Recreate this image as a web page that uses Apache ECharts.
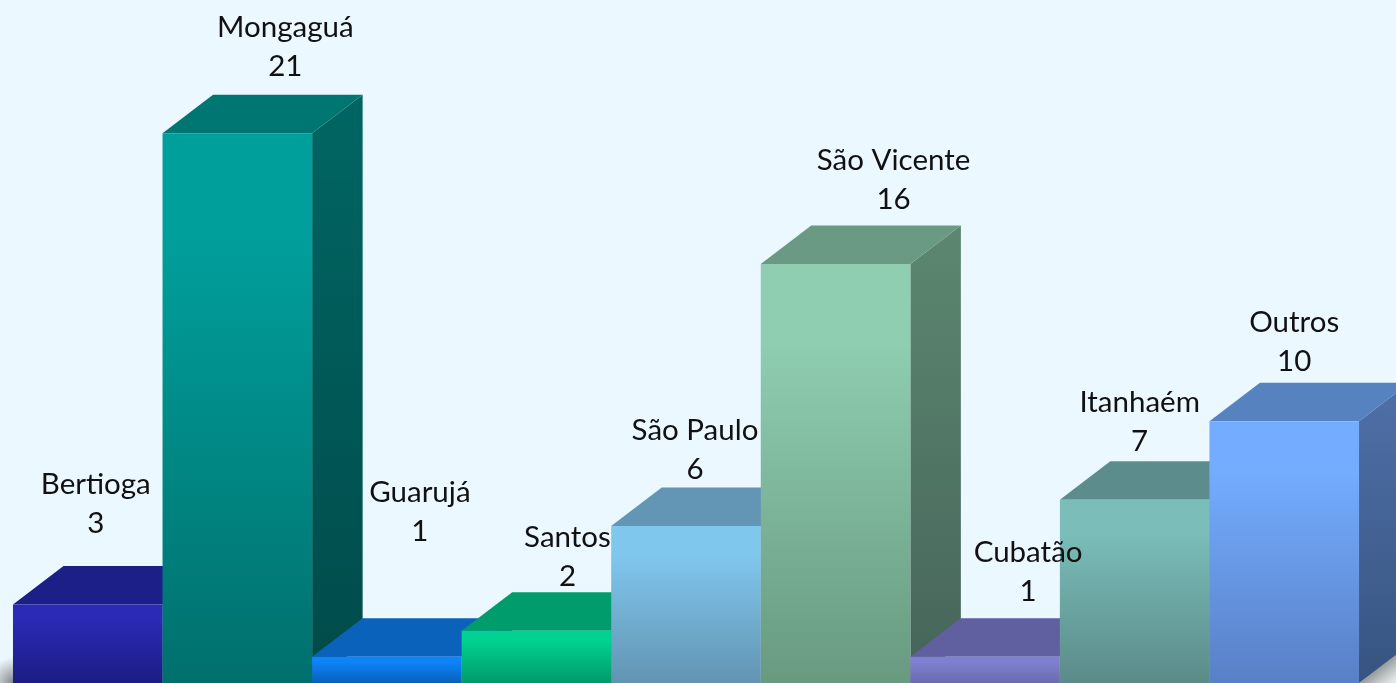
<!DOCTYPE html>
<html><head><meta charset="utf-8">
<style>html,body{margin:0;padding:0;background:#ecf8ff;overflow:hidden}#c{width:1396px;height:683px}</style>
<script src="https://cdn.jsdelivr.net/npm/echarts@6/dist/echarts.min.js"></script>
</head><body><div id="c"></div>
<script>
const categories = ['Bertioga','Mongaguá','Guarujá','Santos','São Paulo','São Vicente','Cubatão','Itanhaém','Outros'];
const values = [3,21,1,2,6,16,1,7,10];
// [front top, front bottom, top face, side top, side bottom]
const palette = [
 ['#2a2ab6','#1c1c84','#1c1f88','#1c1c70','#141460'],
 ['#009f9c','#00706d','#007673','#006663','#004b4a'],
 ['#0d84fb','#0a60b8','#0a62ba','#084c90','#063c74'],
 ['#00d291','#009a68','#009c6b','#008050','#006848'],
 ['#80c7ee','#6294b2','#6296b4','#507c96','#3e6278'],
 ['#8fceb1','#689a80','#6a9a84','#5c8770','#46645a'],
 ['#8080d2','#6a6aae','#6060a0','#505088','#404070'],
 ['#7abdb9','#5b8b89','#5c8c8c','#4c7474','#3c5c5c'],
 ['#74adff','#5880c6','#5682c0','#4f70a8','#375480']
];
const labelShiftX = [8,48,33,31,9,58,43,5,10];
const labelShiftY = [80,66,125,54,56,64,65,58,59];
const depthX = 50.5, depthY = 38.5, barW = 149.6;

const chart = echarts.init(document.getElementById('c'), null, {renderer:'canvas'});
function poly(points, fill, z2){
  return {type:'polygon', shape:{points}, style:{fill}, z2};
}
chart.setOption({
  animation:false,
  backgroundColor:'#ecf8ff',
  grid:{left:13, right:37, top:2.25, height:682.5},
  xAxis:{type:'category', data:categories, show:false},
  yAxis:{type:'value', min:0, max:26, show:false},
  graphic:[
    {type:'rect', z:0, shape:{x:0,y:650,width:14,height:33},
     style:{fill:new echarts.graphic.RadialGradient(14,683,26,[{offset:0,color:'#7f8486'},{offset:0.45,color:'#b4bbbe'},{offset:1,color:'#ecf8ff'}],true)}},
    {type:'polygon', z:0, shape:{points:[[1359,683],[1396,654],[1396,683]]},
     style:{fill:new echarts.graphic.LinearGradient(1378,669,1390,684,[{offset:0,color:'#9a9d9e'},{offset:0.6,color:'#c8cccc'},{offset:1,color:'#e2e8ea'}],true)}}
  ],
  series:[{
    type:'custom', coordinateSystem:'cartesian2d', clip:false,
    data:values.map((v,i)=>[i,v]),
    encode:{x:0,y:1},
    renderItem(params, api){
      const i = api.value(0), v = api.value(1);
      const [cx, ty] = api.coord([i, v]);
      const [, by] = api.coord([i, 0]);
      const l = cx - barW/2, r = cx + barW/2;
      const c = palette[i];
      const grad = (a,b)=>new echarts.graphic.LinearGradient(0,ty,0,by,[{offset:0,color:a},{offset:0.18,color:a},{offset:1,color:b}],true);
      const gradSide = (a,b)=>new echarts.graphic.LinearGradient(0,ty-depthY,0,by,[{offset:0,color:a},{offset:1,color:b}],true);
      return {type:'group', children:[
        poly([[r,ty],[r+depthX,ty-depthY],[r+depthX,by-depthY],[r,by]], gradSide(c[3],c[4]), i*3),
        poly([[l,ty],[l+depthX,ty-depthY],[r+depthX,ty-depthY],[r,ty]], c[2], i*3+1),
        poly([[l,ty],[r,ty],[r,by],[l,by]], grad(c[0],c[1]), i*3+2),
        {type:'text', z2:100, style:{
          x:cx+labelShiftX[i], y:ty-labelShiftY[i]+19,
          text:categories[i]+'\n'+v,
          font:'29.5px Lato, Carlito, sans-serif', fill:'#111',
          align:'center', verticalAlign:'bottom', lineHeight:39
        }}
      ]};
    }
  }]
});
</script></body></html>
